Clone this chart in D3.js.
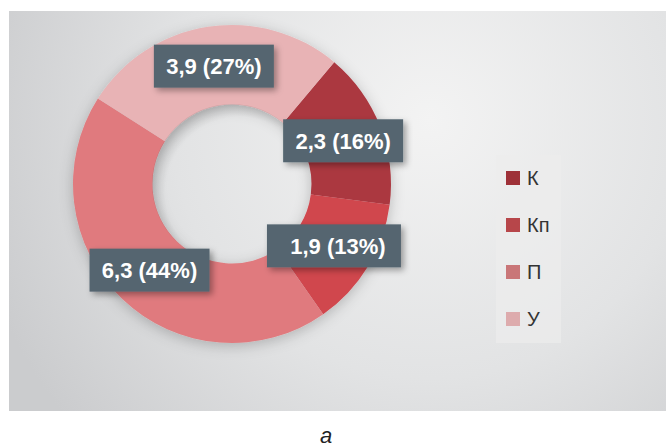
<!DOCTYPE html>
<html><head><meta charset="utf-8">
<script src="https://cdn.jsdelivr.net/npm/d3@7"></script>
<style>
html,body{margin:0;padding:0;background:#fff;}
svg{display:block;}
</style></head>
<body>
<script>
// ---- data ----
const categories = ["К", "Кп", "П", "У"];
const values = [2.3, 1.9, 6.3, 3.9];
const sliceColors = ["#AB3840", "#D0464E", "#E07A7E", "#E8B3B5"];
const legendColors = ["#9E3138", "#B7464A", "#C97678", "#DDABAD"];
const caption = "а";

// ---- layout ----
const W = 666, H = 448;
const cx = 232, cy = 184, rOuter = 159, rInner = 79.5;
const boxW = [120, 134, 120, 120], boxH = 43, textShift = [0, 4, 0, 0];

const svg = d3.select("body").append("svg").attr("width", W).attr("height", H);
const defs = svg.append("defs");

const bg = defs.append("radialGradient").attr("id", "bg")
  .attr("gradientUnits", "userSpaceOnUse")
  .attr("cx", 430).attr("cy", 120).attr("r", 470);
bg.append("stop").attr("offset", "0").attr("stop-color", "#f3f3f3");
bg.append("stop").attr("offset", "0.55").attr("stop-color", "#e2e3e4");
bg.append("stop").attr("offset", "1").attr("stop-color", "#cbccce");

const sh = defs.append("filter").attr("id", "donutShadow")
  .attr("x", "-20%").attr("y", "-20%").attr("width", "140%").attr("height", "140%");
sh.append("feDropShadow").attr("dx", 0).attr("dy", 3).attr("stdDeviation", 7)
  .attr("flood-color", "#000").attr("flood-opacity", 0.22);

const bsh = defs.append("filter").attr("id", "boxShadow")
  .attr("x", "-20%").attr("y", "-30%").attr("width", "150%").attr("height", "170%");
bsh.append("feDropShadow").attr("dx", 3).attr("dy", 3).attr("stdDeviation", 3)
  .attr("flood-color", "#000").attr("flood-opacity", 0.35);

const holeShadow = defs.append("radialGradient").attr("id", "hole")
  .attr("cx", "0.55").attr("cy", "0.55").attr("r", "0.55");
holeShadow.append("stop").attr("offset", "0.85").attr("stop-color", "#000").attr("stop-opacity", 0);
holeShadow.append("stop").attr("offset", "1").attr("stop-color", "#000").attr("stop-opacity", 0.10);

// panel background
svg.append("rect").attr("x", 9).attr("y", 11).attr("width", W - 9).attr("height", 400)
  .attr("fill", "url(#bg)");

// donut
const pie = d3.pie().sort(null).value(d => d)
  .startAngle(40 * Math.PI / 180).endAngle(400 * Math.PI / 180);
const arcs = pie(values);
const arc = d3.arc().innerRadius(rInner).outerRadius(rOuter);
const labelArc = d3.arc().innerRadius((rInner + rOuter) / 2).outerRadius((rInner + rOuter) / 2);

const g = svg.append("g").attr("transform", `translate(${cx},${cy})`);
g.append("g").attr("filter", "url(#donutShadow)")
  .selectAll("path").data(arcs).join("path")
  .attr("d", arc).attr("fill", (d, i) => sliceColors[i]);
g.append("circle").attr("r", rInner + 0.5).attr("fill", "url(#hole)");

// labels
const total = d3.sum(values);
const fmtV = v => String(v).replace(".", ",");
const lab = g.selectAll("g.lab").data(arcs).join("g").attr("class", "lab")
  .attr("transform", d => { const c = labelArc.centroid(d); return `translate(${c[0]},${c[1]})`; });
lab.append("rect")
  .attr("x", (d, i) => -boxW[i] / 2).attr("y", -boxH / 2)
  .attr("width", (d, i) => boxW[i]).attr("height", boxH)
  .attr("fill", "#546570").attr("filter", "url(#boxShadow)");
lab.append("text")
  .attr("x", (d, i) => textShift[i]).attr("y", 8)
  .attr("text-anchor", "middle")
  .attr("font-family", "'Liberation Sans', Arial, sans-serif")
  .attr("font-weight", "bold").attr("font-size", 22).attr("fill", "#fff")
  .text(d => `${fmtV(d.data)} (${Math.round(d.data / total * 100)}%)`);

// legend
const lg = svg.append("g");
lg.append("rect").attr("x", 496).attr("y", 155).attr("width", 65).attr("height", 188)
  .attr("fill", "#ececec").attr("opacity", 0.7);
const li = lg.selectAll("g.li").data(categories).join("g").attr("class", "li")
  .attr("transform", (d, i) => `translate(506,${171 + i * 47})`);
li.append("rect").attr("width", 14).attr("height", 14).attr("fill", (d, i) => legendColors[i]);
li.append("text").attr("x", 21).attr("y", 14)
  .attr("font-family", "'Liberation Sans', Arial, sans-serif")
  .attr("font-size", 20).attr("fill", "#333").text(d => d);

// caption
svg.append("text").attr("x", 326).attr("y", 443).attr("text-anchor", "middle")
  .attr("font-family", "'Liberation Sans', Arial, sans-serif")
  .attr("font-style", "italic").attr("font-size", 22).attr("fill", "#222")
  .text(caption);
</script>
</body></html>
